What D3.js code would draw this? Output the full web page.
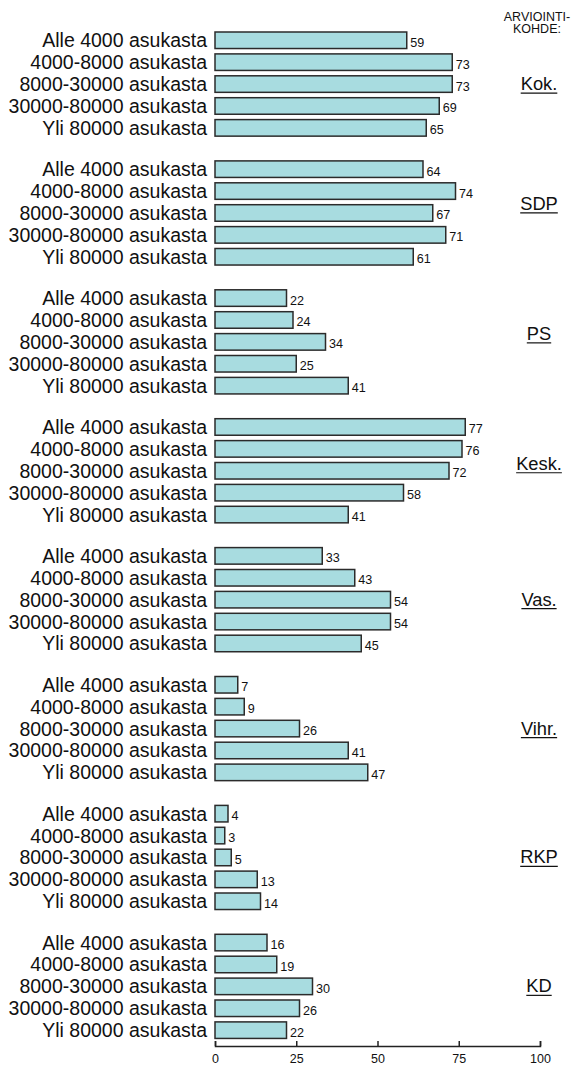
<!DOCTYPE html>
<html>
<head>
<meta charset="utf-8">
<script src="https://cdn.jsdelivr.net/npm/d3@7"></script>
<style>
  html, body { margin: 0; padding: 0; background: #fff; }
  svg { display: block; font-family: "Liberation Sans", Arial, sans-serif; }
</style>
</head>
<body>
<svg id="chart" width="574" height="1066"></svg>
<script>
const parties = ["Kok.", "SDP", "PS", "Kesk.", "Vas.", "Vihr.", "RKP", "KD"];
const categories = ["Alle 4000 asukasta", "4000-8000 asukasta", "8000-30000 asukasta", "30000-80000 asukasta", "Yli 80000 asukasta"];
const kok  = [59, 73, 73, 69, 65];
const sdp  = [64, 74, 67, 71, 61];
const ps   = [22, 24, 34, 25, 41];
const kesk = [77, 76, 72, 58, 41];
const vas  = [33, 43, 54, 54, 45];
const vihr = [7, 9, 26, 41, 47];
const rkp  = [4, 3, 5, 13, 14];
const kd   = [16, 19, 30, 26, 22];
const seriesValues = [kok, sdp, ps, kesk, vas, vihr, rkp, kd];
const xTicks = [0, 25, 50, 75, 100];
const headerLines = ["ARVIOINTI-", "KOHDE:"];

// layout: vertical nudge of some party labels (as in the original artwork), in px
const partyLabelNudge = [0, -9, -8, -7, 0, 0, 0, 0];

const svg = d3.select("#chart");

const x = d3.scaleLinear().domain([0, 100]).range([215, 540]);
const groupStep = 128.9;
const yGroup = d3.scaleBand().domain(parties).range([32, 32 + groupStep * parties.length]).paddingInner(0).paddingOuter(0);
const rowStep = 21.9, pad = 0.245;
const yRow = d3.scaleBand().domain(categories).range([0, rowStep * (categories.length - pad)]).paddingInner(pad).paddingOuter(0);

const rows = [];
parties.forEach((p, gi) => categories.forEach((c, ci) => rows.push({party: p, cat: c, value: seriesValues[gi][ci]})));

const bh = yRow.bandwidth();
const g = svg.append("g");

// bars
g.selectAll("rect.bar").data(rows).join("rect")
  .attr("class", "bar")
  .attr("x", x(0))
  .attr("y", d => yGroup(d.party) + yRow(d.cat))
  .attr("width", d => x(d.value) - x(0))
  .attr("height", bh)
  .attr("fill", "#a8dce0")
  .attr("stroke", "#2b2b2b")
  .attr("stroke-width", 1.5);

// category labels
g.selectAll("text.cat").data(rows).join("text")
  .attr("class", "cat")
  .attr("x", 207)
  .attr("y", d => yGroup(d.party) + yRow(d.cat) + bh / 2 + 7)
  .attr("text-anchor", "end")
  .attr("font-size", 19.5)
  .attr("fill", "#111")
  .text(d => d.cat);

// value labels
g.selectAll("text.val").data(rows).join("text")
  .attr("class", "val")
  .attr("x", d => x(d.value) + 3.5)
  .attr("y", d => yGroup(d.party) + yRow(d.cat) + bh / 2 + 6.5)
  .attr("font-size", 12.6)
  .attr("fill", "#111")
  .text(d => d.value);

// party labels with underline
const groupBlock = yRow.range()[1];
parties.forEach((p, i) => {
  const cy = yGroup(p) + groupBlock / 2 + partyLabelNudge[i];
  const t = svg.append("text")
    .attr("x", 539)
    .attr("y", cy + 6)
    .attr("text-anchor", "middle")
    .attr("font-size", 18.3)
    .attr("fill", "#111")
    .text(p);
  const bb = t.node().getBBox();
  svg.append("line")
    .attr("x1", bb.x).attr("x2", bb.x + bb.width)
    .attr("y1", cy + 9).attr("y2", cy + 9)
    .attr("stroke", "#111").attr("stroke-width", 1.2);
});

// header
svg.append("g").selectAll("text").data(headerLines).join("text")
  .attr("x", 537)
  .attr("y", (d, i) => 20.7 + i * 12)
  .attr("text-anchor", "middle")
  .attr("font-size", 12.5)
  .attr("fill", "#111")
  .text(d => d);

// axis
const axisG = svg.append("g")
  .attr("transform", "translate(0,1046)")
  .call(d3.axisBottom(x).tickValues(xTicks).tickSizeInner(-5).tickSizeOuter(-5).tickPadding(8));
axisG.select(".domain").attr("stroke", "#222").attr("stroke-width", 1.5);
axisG.selectAll(".tick line").attr("stroke", "#222").attr("stroke-width", 1.5);
axisG.selectAll(".tick text").attr("font-size", 12.5).attr("fill", "#111")
  .attr("font-family", "Liberation Sans, Arial, sans-serif");
</script>
</body>
</html>
